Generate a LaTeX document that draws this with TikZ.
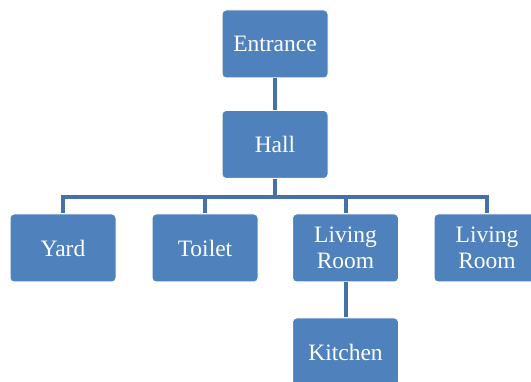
\documentclass[tikz,border=0pt]{standalone}
\usepackage{fontspec}
\setmainfont{Liberation Serif}
\definecolor{boxblue}{HTML}{4F81BD}
\definecolor{lineblue}{HTML}{4571A6}
\begin{document}
\begin{tikzpicture}[x=1pt,y=-1pt,
  roombox/.style={draw=white, line width=1pt, fill=boxblue, rounded corners=4pt,
    minimum width=106pt, minimum height=68pt, text=white, inner sep=0pt,
    font=\fontsize{23.5}{26}\selectfont, align=center},
  link/.style={draw=lineblue, line width=4pt}]
\useasboundingbox (0,0) rectangle (531,382);
\clip (0,0) rectangle (531,382);
\node[roombox] (ent) at (275,44) {Entrance};
\node[roombox] (hall) at (275,144.5) {Hall};
\node[roombox] (yard) at (63,248) {Yard};
\node[roombox] (toilet) at (205,248) {Toilet};
\node[roombox] (lr1) at (345.5,248) {Living\\Room};
\node[roombox] (lr2) at (487,248) {Living\\Room};
\node[roombox] (kit) at (345.5,352) {Kitchen};
\coordinate (bus) at (275,197);
\draw[link] (ent.south) -- (hall.north);
\draw[link] (hall.south) -- (bus);
\draw[link] (yard.north) |- (bus) -| (lr2.north);
\draw[link] (toilet.north) -- (toilet.north |- bus);
\draw[link] (lr1.north) -- (lr1.north |- bus);
\draw[link] (lr1.south) -- (kit.north);
\end{tikzpicture}
\end{document}
